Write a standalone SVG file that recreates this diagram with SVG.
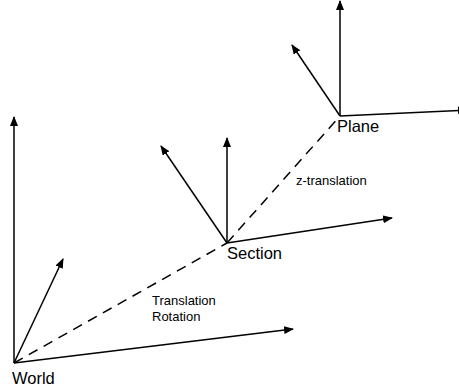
<svg xmlns="http://www.w3.org/2000/svg" width="459" height="392" viewBox="0 0 459 392">
<style>
.ax{stroke:#000;stroke-width:1.5;fill:none;marker-end:url(#ah)}
.dash{stroke:#000;stroke-width:1.5;fill:none;stroke-dasharray:10 7}
.lbl{font-family:"Liberation Sans",Arial,sans-serif;font-size:16.5px;fill:#000}
.sm{font-family:"Liberation Sans",Arial,sans-serif;font-size:13px;fill:#000}
</style>
<defs>
<marker id="ah" viewBox="0 0 10 8" refX="9" refY="4" markerWidth="10" markerHeight="8" markerUnits="userSpaceOnUse" orient="auto">
<path d="M0,0 L10,4 L0,8 z" fill="#000"/>
</marker>
</defs>
<rect width="459" height="392" fill="#fff"/>
<g id="connectors">
<path class="dash" d="M14,363 L227,243"/>
<path class="dash" d="M227,243 L340,116"/>
<text class="sm" x="296" y="185">z-translation</text>
<text class="sm" x="152" y="305">Translation</text>
<text class="sm" x="152" y="321">Rotation</text>
</g>
<g id="world">
<path class="ax" d="M14,363 L14,117"/>
<path class="ax" d="M14,363 L63,259"/>
<path class="ax" d="M14,363 L293,329"/>
<text class="lbl" x="12" y="384">World</text>
</g>
<g id="section">
<path class="ax" d="M227,243 L227,138"/>
<path class="ax" d="M227,243 L161,146"/>
<path class="ax" d="M227,243 L392,218"/>
<text class="lbl" x="227" y="259">Section</text>
</g>
<g id="plane">
<path class="ax" d="M340,116 L340,1"/>
<path class="ax" d="M340,116 L292,45"/>
<path class="ax" d="M340,116 L467,110"/>
<text class="lbl" x="337" y="132">Plane</text>
</g>
</svg>
